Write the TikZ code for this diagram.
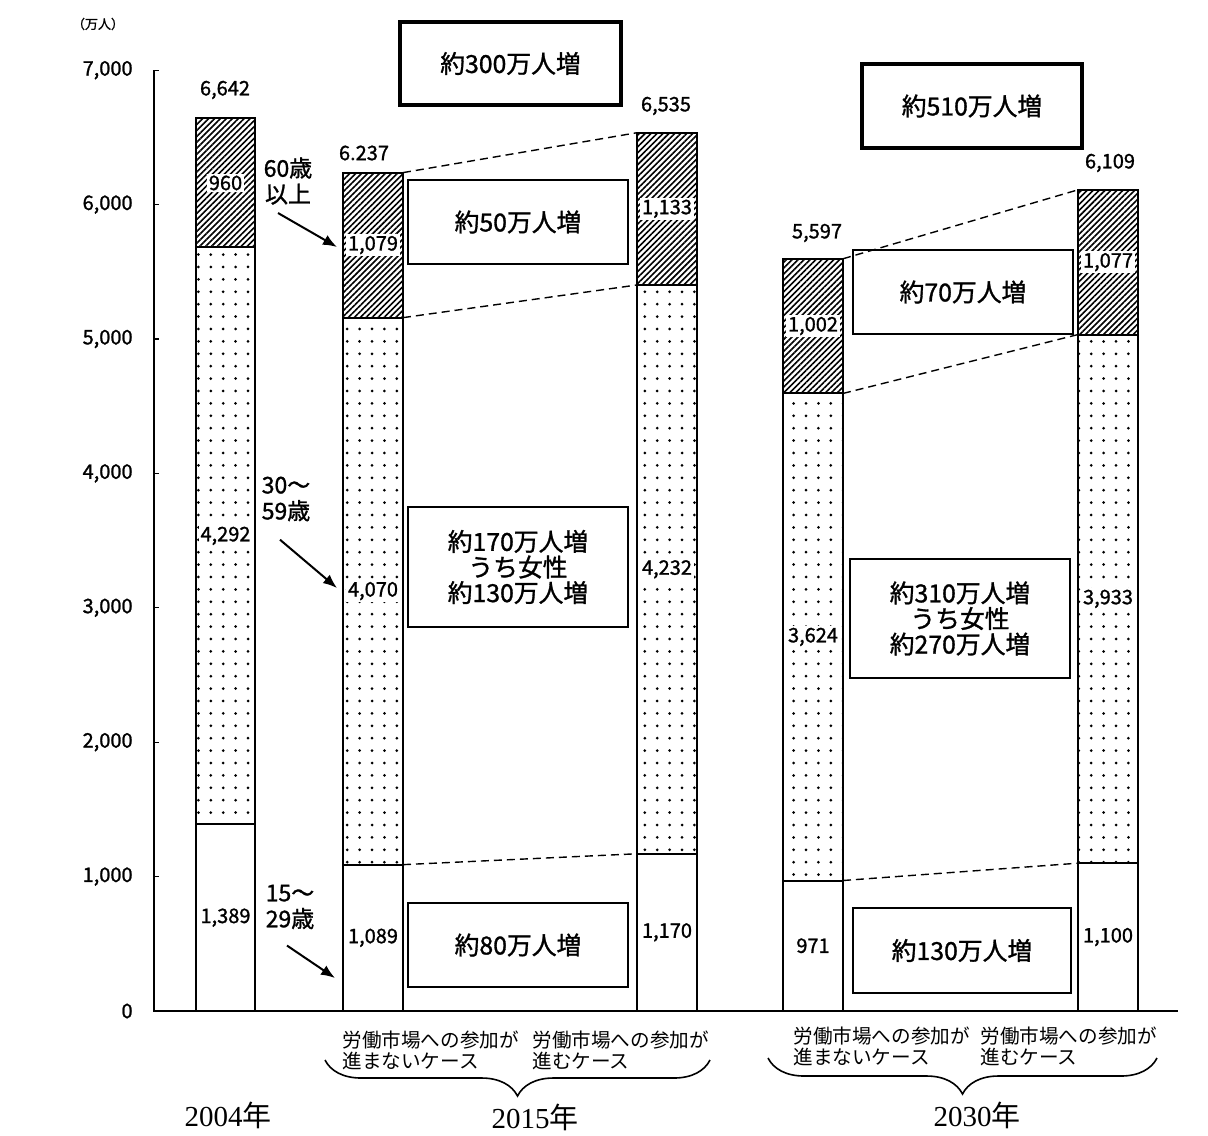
\documentclass[tikz,border=0pt]{standalone}
\usepackage{fontspec}
\setmainfont{Noto Sans CJK JP}[FakeBold=1.2]
\newfontfamily\casefont{Noto Sans CJK JP}
\newfontfamily\yearfont{Liberation Serif}
\usetikzlibrary{arrows.meta,patterns.meta,decorations.pathreplacing}

\tikzset{
  bar/.style={draw,line width=1pt},
  hatchbar/.style={bar,pattern={Lines[angle=45,distance=2.1pt,line width=0.8pt]}},
  dotbar/.style={bar,pattern={Dots[distance=6.2pt,radius=0.75pt]}},
  num/.style={font=\fontsize{10}{11}\selectfont,inner sep=1pt},
  inbar/.style={num,fill=white},
  gain/.style={draw,line width=0.8pt,align=center,font=\fontsize{12.4}{12.8}\selectfont,minimum width=110pt,minimum height=42pt},
  biggain/.style={gain,line width=2pt},
  note/.style={align=left,font=\fontsize{11.5}{13}\selectfont,inner sep=0pt},
  casetext/.style={align=left,font=\casefont\fontsize{9.8}{10.5}\selectfont,anchor=west,inner sep=0pt},
  year/.style={font=\fontsize{14.5}{15}\selectfont},
  link/.style={dash pattern=on 4pt off 2.5pt,line width=0.7pt},
}

\begin{document}
\begin{tikzpicture}[x=0.5pt,y=-0.5pt]
\useasboundingbox (0,0) rectangle (1208,1135);
\node[font=\fontsize{6.5}{7}\selectfont] (unit) at (98,24) {（万人）};

\begin{scope}[shift={(0,1011)},y=0.0672pt]
% axis
\draw[line width=0.6pt] (154,7000) -- (154,0) -- (1178,0);
\node[num,anchor=east] (y0) at (135,0) {0};
\foreach \k in {1,...,7}{
  \draw[line width=0.6pt] (154,\k*1000) -- (159,\k*1000);
  \node[num,anchor=east] (y\k) at (135,\k*1000) {\k,000};
}
% 2004
\draw[bar] (196,0) rectangle (255,1389);
\draw[dotbar] (196,1389) rectangle (255,5681);
\draw[hatchbar] (196,5681) rectangle (255,6641);
\node[inbar] (v04a) at (225.5,694.5) {1,389};
\node[inbar] (v04b) at (225.5,3535) {4,292};
\node[inbar] (v04c) at (225.5,6161) {960};
% 2015, not advancing
\draw[bar] (343,0) rectangle (403,1089);
\draw[dotbar] (343,1089) rectangle (403,5159);
\draw[hatchbar] (343,5159) rectangle (403,6238);
\node[inbar] (v15a) at (373,544.5) {1,089};
\node[inbar] (v15b) at (373,3124) {4,070};
\node[inbar] (v15c) at (373,5698.5) {1,079};
% 2015, advancing
\draw[bar] (637,0) rectangle (697,1170);
\draw[dotbar] (637,1170) rectangle (697,5402);
\draw[hatchbar] (637,5402) rectangle (697,6535);
\node[inbar] (w15a) at (667,585) {1,170};
\node[inbar] (w15b) at (667,3286) {4,232};
\node[inbar] (w15c) at (667,5968.5) {1,133};
% 2030, not advancing
\draw[bar] (783,0) rectangle (843,971);
\draw[dotbar] (783,971) rectangle (843,4595);
\draw[hatchbar] (783,4595) rectangle (843,5597);
\node[inbar] (v30a) at (813,485.5) {971};
\node[inbar] (v30b) at (813,2783) {3,624};
\node[inbar] (v30c) at (813,5096) {1,002};
% 2030, advancing
\draw[bar] (1078,0) rectangle (1138,1100);
\draw[dotbar] (1078,1100) rectangle (1138,5033);
\draw[hatchbar] (1078,5033) rectangle (1138,6110);
\node[inbar] (w30a) at (1108,550) {1,100};
\node[inbar] (w30b) at (1108,3066.5) {3,933};
\node[inbar] (w30c) at (1108,5571.5) {1,077};
% corners for the links
\coordinate (n15c) at (403,6238);
\coordinate (n15b) at (403,5159);
\coordinate (n15a) at (403,1089);
\coordinate (a15c) at (637,6535);
\coordinate (a15b) at (637,5402);
\coordinate (a15a) at (637,1170);
\coordinate (n30c) at (843,5597);
\coordinate (n30b) at (843,4595);
\coordinate (n30a) at (843,971);
\coordinate (a30c) at (1078,6110);
\coordinate (a30b) at (1078,5033);
\coordinate (a30a) at (1078,1100);
\end{scope}

\draw[link] (n15c) -- (a15c);
\draw[link] (n15b) -- (a15b);
\draw[link] (n15a) -- (a15a);
\draw[link] (n30c) -- (a30c);
\draw[link] (n30b) -- (a30b);
\draw[link] (n30a) -- (a30a);

% totals
\node[num] (t04) at (225,90) {6,642};
\node[num] (t15n) at (364,153) {6.237};
\node[num] (t15a) at (666,106) {6,535};
\node[num] (t30n) at (817,233) {5,597};
\node[num] (t30a) at (1110,163) {6,109};

% increase boxes
\node[biggain,minimum width=110.5pt,minimum height=41.5pt] (g15) at (510.5,63.5) {約300万人増};
\node[biggain] (g30) at (972,106) {約510万人増};
\node[gain] (g15c) at (518,222) {約50万人増};
\node[gain,minimum height=60pt] (g15b) at (518,567) {約170万人増\\うち女性\\約130万人増};
\node[gain] (g15a) at (518,945) {約80万人増};
\node[gain] (g30c) at (963,292) {約70万人増};
\node[gain,minimum height=59.5pt] (g30b) at (960,618.5) {約310万人増\\うち女性\\約270万人増};
\node[gain,minimum width=109pt,minimum height=42.5pt] (g30a) at (962,950.5) {約130万人増};

% age groups
\node[note,align=center] (age60) at (288,181) {60歳\\以上};
\node[note] (age30) at (286,499) {30～\\59歳};
\node[note] (age15) at (290,907) {15～\\29歳};
\coordinate (tip60) at (337,247);
\coordinate (tip30) at (337,588);
\coordinate (tip15) at (335,978);
\draw[->,>={Latex[length=7pt,width=5.5pt]},line width=1pt] ([xshift=-5pt,yshift=-4pt]age60.south) -- (tip60);
\draw[->,>={Latex[length=7pt,width=5.5pt]},line width=1pt] ([xshift=-3pt,yshift=-9pt]age30.south) -- (tip30);
\draw[->,>={Latex[length=7pt,width=5.5pt]},line width=1pt] ([xshift=-1.5pt,yshift=-8pt]age15.south) -- (tip15);

% cases and years
\node[casetext] (c15n) at (342,1050) {労働市場への参加が\\進まないケース};
\node[casetext] (c15a) at (532,1050) {労働市場への参加が\\進むケース};
\node[casetext] (c30n) at (793,1046) {労働市場への参加が\\進まないケース};
\node[casetext] (c30a) at (980,1046) {労働市場への参加が\\進むケース};
\coordinate (b15l) at (325,1060);
\coordinate (b15r) at (710,1060);
\coordinate (b30l) at (768,1058);
\coordinate (b30r) at (1157,1058);
\draw[decorate,decoration={brace,mirror,amplitude=18pt},line width=0.8pt] (b15l) -- (b15r);
\draw[decorate,decoration={brace,mirror,amplitude=18pt},line width=0.8pt] (b30l) -- (b30r);
\node[year] (yr04) at (228,1115) {{\yearfont 2004}{\casefont 年}};
\node[year] (yr15) at (535,1117) {{\yearfont 2015}{\casefont 年}};
\node[year] (yr30) at (977,1115) {{\yearfont 2030}{\casefont 年}};
\end{tikzpicture}
\end{document}
